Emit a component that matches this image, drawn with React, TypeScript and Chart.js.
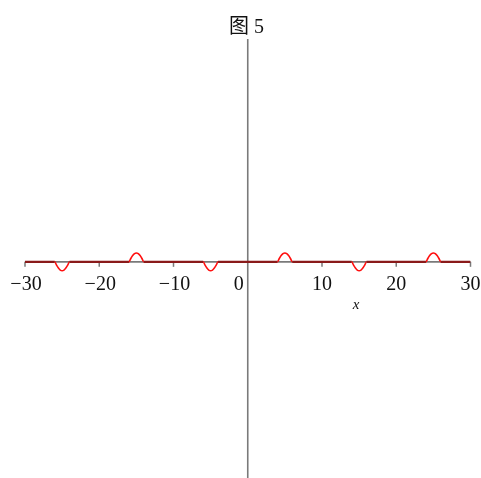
import React, { useEffect, useRef } from "react";
import { Chart, registerables } from "chart.js";

Chart.register(...registerables);

const chartTitle = "图 5";
const axisLabelX = "x";
const xTicks = [-30, -20, -10, 10, 20, 30];
const xTickLabels = ["\u221230", "\u221220", "\u221210", "10", "20", "30"];
const zeroLabel = "0";

const xValues = [
  -30,
  -26, -25.75, -25.5, -25.25, -25, -24.75, -24.5, -24.25, -24,
  -16, -15.75, -15.5, -15.25, -15, -14.75, -14.5, -14.25, -14,
  -6, -5.75, -5.5, -5.25, -5, -4.75, -4.5, -4.25, -4,
  4, 4.25, 4.5, 4.75, 5, 5.25, 5.5, 5.75, 6,
  14, 14.25, 14.5, 14.75, 15, 15.25, 15.5, 15.75, 16,
  24, 24.25, 24.5, 24.75, 25, 25.25, 25.5, 25.75, 26,
  30,
];
const yValues = [
  0,
  0, -0.015, -0.028, -0.037, -0.04, -0.037, -0.028, -0.015, 0,
  0, 0.015, 0.028, 0.037, 0.04, 0.037, 0.028, 0.015, 0,
  0, -0.015, -0.028, -0.037, -0.04, -0.037, -0.028, -0.015, 0,
  0, 0.015, 0.028, 0.037, 0.04, 0.037, 0.028, 0.015, 0,
  0, -0.015, -0.028, -0.037, -0.04, -0.037, -0.028, -0.015, 0,
  0, 0.015, 0.028, 0.037, 0.04, 0.037, 0.028, 0.015, 0,
  0,
];

const FLAT_COLOR = "#8a1a1a";
const BUMP_COLOR = "#ff1010";
const AXIS_COLOR = "#7a7a7a";

const axesPlugin = {
  id: "mapleAxes",
  beforeDatasetsDraw(chart: any) {
    const { ctx, chartArea, scales } = chart;
    const xs = scales.x;
    const ys = scales.y;
    const x0 = xs.getPixelForValue(0);
    const y0 = ys.getPixelForValue(0);
    ctx.save();
    ctx.strokeStyle = AXIS_COLOR;
    ctx.lineWidth = 1.6;
    ctx.beginPath();
    ctx.moveTo(x0, chartArea.top);
    ctx.lineTo(x0, chartArea.bottom);
    ctx.stroke();
    ctx.beginPath();
    ctx.moveTo(xs.getPixelForValue(-30), y0);
    ctx.lineTo(xs.getPixelForValue(30), y0);
    ctx.stroke();
    ctx.lineWidth = 1.5;
    xTicks.forEach((t) => {
      const px = xs.getPixelForValue(t);
      ctx.beginPath();
      ctx.moveTo(px, y0);
      ctx.lineTo(px, y0 + 5);
      ctx.stroke();
    });
    ctx.restore();
  },
  afterDraw(chart: any) {
    const { ctx, scales, width } = chart;
    const xs = scales.x;
    const ys = scales.y;
    const x0 = xs.getPixelForValue(0);
    const y0 = ys.getPixelForValue(0);
    ctx.save();
    ctx.fillStyle = "#111";
    ctx.font = '20px "Liberation Serif", "Times New Roman", serif';
    ctx.textAlign = "center";
    ctx.textBaseline = "alphabetic";
    xTicks.forEach((t, i) => {
      ctx.fillText(xTickLabels[i], xs.getPixelForValue(t) + (t < 0 ? 1 : 0), y0 + 28);
    });
    ctx.textAlign = "right";
    ctx.fillText(zeroLabel, x0 - 4, y0 + 28);
    ctx.textAlign = "center";
    ctx.font = 'italic 15px "Liberation Serif", "Times New Roman", serif';
    ctx.fillText(axisLabelX, xs.getPixelForValue(14.6), y0 + 47);
    ctx.font = '20px "Liberation Serif", "Noto Sans CJK SC", serif';
    ctx.fillText(chartTitle, width / 2 + 6, 33);
    ctx.restore();
  },
};

export default function App() {
  const canvasRef = useRef<HTMLCanvasElement | null>(null);

  useEffect(() => {
    const canvas = canvasRef.current;
    if (!canvas) return;
    const points = xValues.map((x, i) => ({ x, y: yValues[i] }));
    const chart = new Chart(canvas, {
      type: "line",
      data: {
        datasets: [
          {
            data: points,
            borderColor: BUMP_COLOR,
            borderWidth: 1.8,
            pointRadius: 0,
            cubicInterpolationMode: "monotone",
            segment: {
              borderColor: (c: any) =>
                c.p0.parsed.y === 0 && c.p1.parsed.y === 0 ? FLAT_COLOR : BUMP_COLOR,
              borderWidth: (c: any) =>
                c.p0.parsed.y === 0 && c.p1.parsed.y === 0 ? 2.2 : 1.6,
            },
          } as any,
        ],
      },
      options: {
        animation: false,
        responsive: false,
        maintainAspectRatio: false,
        layout: { padding: { left: 25, right: 10.5, top: 39, bottom: 0 } },
        plugins: {
          legend: { display: false },
          title: { display: false },
          tooltip: { enabled: false },
        },
        scales: {
          x: { type: "linear", min: -30, max: 30, display: false },
          y: { type: "linear", min: -0.97, max: 1, display: false },
        },
      },
      plugins: [axesPlugin],
    });
    return () => chart.destroy();
  }, []);

  return (
    <div style={{ position: "fixed", left: 0, top: 0, width: 481, height: 478, background: "#fff" }}>
      <canvas ref={canvasRef} width={481} height={478} style={{ display: "block" }} />
    </div>
  );
}
